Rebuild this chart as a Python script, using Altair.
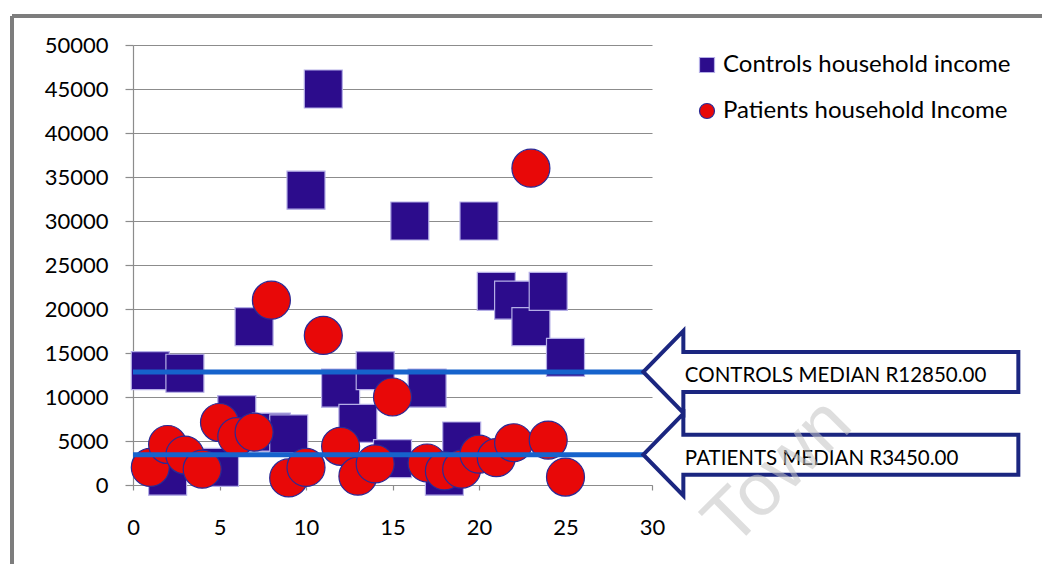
import altair as alt
import pandas as pd

# --- data -----------------------------------------------------------------
series_names = ["Controls household income", "Patients household Income"]

controls_case = [1, 2, 3, 5, 6, 7, 8, 9, 10, 11, 12, 13, 14, 15, 16, 17, 18, 19,
                 20, 21, 22, 23, 24, 25]
controls_income = [13000, 1000, 12700, 2000, 8000, 18000, 6000, 5800, 33500, 45000,
                   11000, 7000, 13000, 3000, 30000, 11000, 1000, 5000, 30000, 22000,
                   21000, 18000, 22000, 14500]

patients_case = [1, 2, 3, 4, 5, 6, 7, 8, 9, 10, 11, 12, 13, 14, 15, 17, 18, 19,
                 20, 21, 22, 23, 24, 25]
patients_income = [2000, 4600, 3400, 1800, 7100, 5500, 6000, 21000, 800, 2000, 17000,
                   4400, 1000, 2400, 10000, 2500, 1600, 1800, 3500, 3100, 4800, 36000,
                   5100, 900]

median_labels = ["CONTROLS MEDIAN R12850.00", "PATIENTS MEDIAN R3450.00"]
median_values = [12850, 3450]

x_ticks = [0, 5, 10, 15, 20, 25, 30]
y_ticks = [0, 5000, 10000, 15000, 20000, 25000, 30000, 35000, 40000, 45000, 50000]

# --- layout constants -----------------------------------------------------
PLOT_W, PLOT_H = 519, 440
PAD = {"left": 133, "top": 45, "right": 390, "bottom": 79}
X_DOMAIN = [0, 30]
Y_DOMAIN = [0, 50000]
ARROW_TIP = 29.5      # x (data units) where the median lines meet the arrows
LABEL_X = 31.9        # x (data units) where the arrow captions start

# block arrow pointing left, drawn in pixel units around its tip (size=4 -> scale 1)
ARROW_PATH = "M0,0 L40,-41 L40,-20 L375,-20 L375,20 L40,20 L40,41 Z"

FONT = "Lato"

xs = alt.Scale(domain=X_DOMAIN, nice=False)
ys = alt.Scale(domain=Y_DOMAIN, nice=False)

points = pd.DataFrame({
    "case": controls_case + patients_case,
    "income": controls_income + patients_income,
    "series": [series_names[0]] * len(controls_case) + [series_names[1]] * len(patients_case),
})

medians = pd.DataFrame({
    "label": median_labels,
    "median": median_values,
    "start": [0, 0],
    "tip": [ARROW_TIP, ARROW_TIP],
    "text_x": [LABEL_X, LABEL_X],
})

legend = alt.Legend(
    title=None, orient="none", legendX=562, legendY=8, padding=0,
    labelFont=FONT, labelFontSize=24, labelColor="#000000", labelOffset=4,
    labelLimit=0, symbolSize=225, symbolStrokeWidth=1.2, rowPadding=22,
)

scatter = alt.Chart(points).mark_point(filled=True, size=1444, strokeWidth=1.2, opacity=1).encode(
    x=alt.X("case:Q", scale=xs,
            axis=alt.Axis(values=x_ticks, grid=False, title=None, tickSize=5,
                          labelPadding=27, labelFlush=False)),
    y=alt.Y("income:Q", scale=ys,
            axis=alt.Axis(values=y_ticks, grid=True, title=None, tickSize=8,
                          labelPadding=17, format="d", labelFlush=False)),
    fill=alt.Fill("series:N", scale=alt.Scale(domain=series_names, range=["#2c0c8c", "#e80808"]),
                  legend=legend),
    stroke=alt.Stroke("series:N", scale=alt.Scale(domain=series_names, range=["#b4aee6", "#2a2a96"]),
                      legend=legend),
    shape=alt.Shape("series:N", scale=alt.Scale(domain=series_names, range=["square", "circle"]),
                    legend=legend),
)

median_lines = alt.Chart(medians).mark_rule(color="#1663cc", strokeWidth=5).encode(
    x=alt.X("start:Q", scale=xs),
    x2="tip:Q",
    y=alt.Y("median:Q", scale=ys),
)

arrows = alt.Chart(medians).mark_point(
    shape=ARROW_PATH, size=4, filled=True, fill="#ffffff", stroke="#1b2680",
    strokeWidth=4, opacity=1,
).encode(
    x=alt.X("tip:Q", scale=xs),
    y=alt.Y("median:Q", scale=ys),
)

captions = alt.Chart(medians).mark_text(
    align="left", baseline="middle", font=FONT, fontSize=20.5, color="#000000", dy=4,
).encode(
    x=alt.X("text_x:Q", scale=xs),
    y=alt.Y("median:Q", scale=ys),
    text="label:N",
)

watermark = alt.Chart(pd.DataFrame({"t": ["Town"], "x": [37.3], "y": [1400]})).mark_text(
    font="Liberation Sans", fontSize=74, angle=315, color="#c4c4c4", opacity=0.55,
    align="center", baseline="middle",
).encode(
    x=alt.X("x:Q", scale=xs),
    y=alt.Y("y:Q", scale=ys),
    text="t:N",
)

# grey page frame along the top and left edges
frame_top = alt.Chart(pd.DataFrame({"k": [0]})).mark_rule(color="#7d7d7d", strokeWidth=4).encode(
    x=alt.value(-121), x2=alt.value(909), y=alt.value(-29),
)
frame_left = alt.Chart(pd.DataFrame({"k": [0]})).mark_rule(color="#7d7d7d", strokeWidth=4).encode(
    x=alt.value(-121), y=alt.value(-29), y2=alt.value(519),
)

chart = alt.layer(
    frame_top, frame_left, scatter, median_lines, arrows, captions, watermark,
).properties(
    width=PLOT_W, height=PLOT_H, padding=PAD, autosize="none", background="#ffffff",
).configure_view(
    stroke=None,
).configure_axis(
    labelFont=FONT, labelFontSize=22, labelColor="#000000",
    domainColor="#8c8c8c", tickColor="#8c8c8c", gridColor="#8c8c8c",
    domainWidth=1.2, tickWidth=1.2, gridWidth=1.2,
)

chart.save("out.html", embed_options={"renderer": "svg", "actions": False})
